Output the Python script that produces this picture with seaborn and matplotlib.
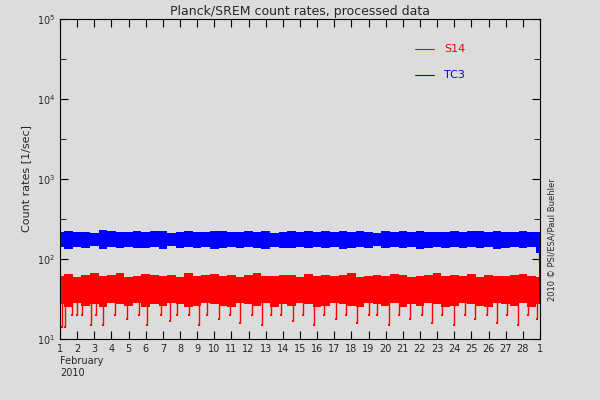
import matplotlib
matplotlib.use("Agg")
import matplotlib.pyplot as plt
import seaborn as sns
from matplotlib.ticker import FixedLocator, NullFormatter
from matplotlib.lines import Line2D

sns.set_style("ticks")
plt.rcParams['font.family'] = ['DejaVu Sans']

# time in days of February 2010 (half-day samples); 29 = 1 March
days = [1 + 0.5 * i for i in range(57)]
tc3_hi = [215,225,218,220,212,230,222,216,219,224,217,221,226,214,220,223,218,215,221,227,219,216,222,218,224,213,220,225,217,221,219,223,216,222,218,226,220,214,221,219,224,217,222,218,220,215,223,219,226,221,217,224,220,218,222,219,216]
tc3_lo = [140,135,142,138,145,133,140,137,143,139,136,141,134,144,138,140,137,143,135,139,142,136,140,138,134,141,139,137,143,136,140,138,142,135,139,141,137,144,136,140,138,142,135,139,141,137,140,136,143,138,141,135,139,142,137,140,120]
s14_hi = [62,65,60,64,66,61,63,67,60,62,65,63,61,64,60,66,62,63,65,61,64,60,63,66,62,61,64,63,60,65,62,64,61,63,66,60,62,64,61,65,63,60,62,64,66,61,63,62,65,60,64,62,61,63,65,62,60]
s14_lo = [27,25,28,26,27,25,28,27,26,28,25,27,26,28,27,25,26,28,27,26,25,28,27,26,28,25,27,26,28,27,25,26,28,27,26,25,28,27,26,28,25,27,26,28,27,25,26,28,27,26,25,28,27,26,28,25,27]
dip_days = [1.1,1.3,1.7,2.0,2.3,2.8,3.1,3.5,4.2,4.9,5.6,6.1,6.9,7.4,7.8,8.5,9.1,9.6,10.3,10.9,11.5,12.2,12.8,13.3,13.9,14.6,15.2,15.8,16.4,17.1,17.7,18.3,19.0,19.5,20.2,20.8,21.4,22.1,22.7,23.3,24.0,24.6,25.2,25.9,26.5,27.1,27.7,28.3,28.8]
dip_vals = [14,14,20,20,20,15,20,15,20,18,20,15,20,17,20,20,15,20,18,20,16,20,15,20,20,17,20,15,20,18,20,16,20,20,15,20,18,20,16,20,15,20,18,20,16,20,15,20,18]

fig = plt.figure(figsize=(6, 4), dpi=100, facecolor='#dcdcdc')
ax = fig.add_axes([0.1, 0.1525, 0.8, 0.8])
ax.set_facecolor('#dcdcdc')

ax.fill_between(days, tc3_lo, tc3_hi, color='#0000ff', lw=0, step='mid')
ax.fill_between(days, s14_lo, s14_hi, color='#ff0000', lw=0, step='mid')
ax.vlines(dip_days, dip_vals, 30, color='#ff0000', lw=1)
ax.scatter(dip_days, dip_vals, color='#ff0000', s=4, marker='s', lw=0)
sns.lineplot(x=[28.97, 29.0], y=[150, 30], color='#0000ff', lw=1, ax=ax, sort=False)

for yy, c, lab in [(0.905, '#ff0000', 'S14'), (0.825, '#0000ff', 'TC3')]:
    ax.add_line(Line2D([0.74, 0.78], [yy, yy], color=c, lw=0.8, transform=ax.transAxes))
    ax.text(0.8, yy, lab, color=c, transform=ax.transAxes, fontsize=8, va='center')

ax.set_yscale('log')
ax.set_ylim(10, 1e5)
ax.set_xlim(1, 29)
ax.set_xticks(range(1, 30))
ax.set_xticklabels([str(d) for d in range(1, 29)] + ['1'], fontsize=7)
ax.set_yticks([1e1, 1e2, 1e3, 1e4, 1e5])
ax.set_yticklabels(['10$^{1}$', '10$^{2}$', '10$^{3}$', '10$^{4}$', '10$^{5}$'], fontsize=7)
ax.yaxis.set_minor_locator(FixedLocator([10**1.5, 10**2.5, 10**3.5, 10**4.5]))
ax.yaxis.set_minor_formatter(NullFormatter())
ax.tick_params(which='both', direction='in', top=True, right=True, color='black')
ax.tick_params(which='major', length=6)
ax.tick_params(which='minor', length=4)
for s in ax.spines.values():
    s.set_color('black')
ax.set_ylabel('Count rates [1/sec]', fontsize=8)
ax.set_title('Planck/SREM count rates, processed data', fontsize=9, pad=3)
fig.text(0.1, 0.055, 'February\n2010', fontsize=7, va='bottom', ha='left')
fig.text(0.912, 0.4, '2010 © PSI/ESA/Paul Buehler', rotation=90, fontsize=6, va='center')
fig.savefig('out.png', dpi=100, facecolor='#dcdcdc')
